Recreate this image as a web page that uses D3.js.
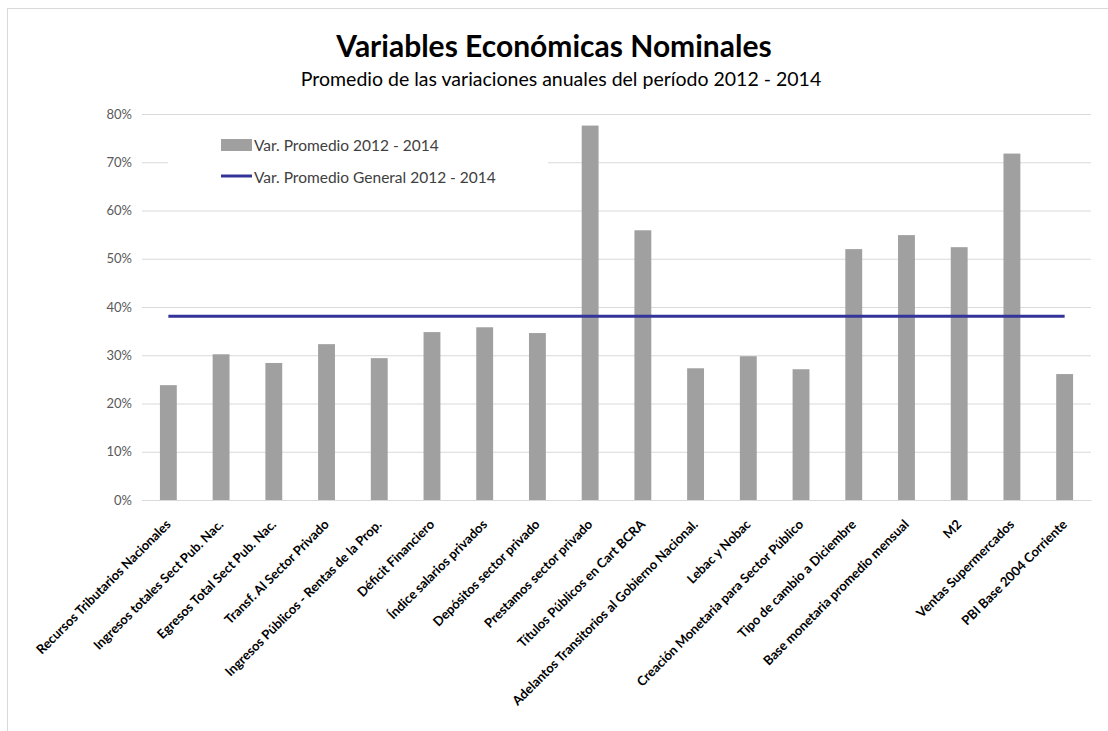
<!DOCTYPE html>
<html>
<head>
<meta charset="utf-8">
<script src="https://cdn.jsdelivr.net/npm/d3@7"></script>
<style>
  body { margin: 0; background: #fff; }
  text { font-family: Lato, "Open Sans", sans-serif; }
</style>
</head>
<body>
<script>
// categories and values
var categories = [
  "Recursos Tributarios Nacionales",
  "Ingresos totales Sect Pub. Nac.",
  "Egresos Total Sect Pub. Nac.",
  "Transf. Al Sector Privado",
  "Ingresos Públicos - Rentas de la Prop.",
  "Déficit Financiero",
  "Índice salarios privados",
  "Depósitos sector privado",
  "Prestamos sector privado",
  "Títulos Públicos en Cart BCRA",
  "Adelantos Transitorios al Gobierno Nacional.",
  "Lebac y Nobac",
  "Creación Monetaria para Sector Público",
  "Tipo de cambio a Diciembre",
  "Base monetaria promedio mensual",
  "M2",
  "Ventas Supermercados",
  "PBI Base 2004 Corriente"
];
var varPromedio = [0.238, 0.302, 0.284, 0.323, 0.294, 0.348, 0.358, 0.346, 0.776,
                   0.559, 0.273, 0.298, 0.271, 0.520, 0.549, 0.524, 0.718, 0.261];
var promedioGeneral = 0.381;
var yTicks = [0, 0.1, 0.2, 0.3, 0.4, 0.5, 0.6, 0.7, 0.8];

var title = "Variables Económicas Nominales";
var subtitle = "Promedio de las variaciones anuales del período 2012 - 2014";
var legendLabels = ["Var. Promedio 2012 - 2014", "Var. Promedio General 2012 - 2014"];

var width = 1108, height = 731;
var margin = {top: 114, right: 17, bottom: 231, left: 142};
var w = width - margin.left - margin.right;
var h = height - margin.top - margin.bottom;

var svg = d3.select("body").append("svg")
  .attr("width", width)
  .attr("height", height);

// chart frame
svg.append("rect")
  .attr("x", 7.5).attr("y", 8.5)
  .attr("width", 1200).attr("height", 900)
  .style("fill", "#fff")
  .style("stroke", "#d9d9d9");

// titles
svg.append("text")
  .attr("x", 554).attr("y", 57)
  .style("text-anchor", "middle")
  .style("font-size", "30px")
  .style("font-weight", "bold")
  .style("fill", "#000")
  .text(title);

svg.append("text")
  .attr("x", 561).attr("y", 86)
  .style("text-anchor", "middle")
  .style("font-size", "19.5px")
  .style("fill", "#000")
  .text(subtitle);

var g = svg.append("g")
  .attr("transform", "translate(" + margin.left + "," + margin.top + ")");

var x_scale = d3.scaleBand()
  .domain(categories)
  .range([0, w])
  .paddingInner(0.68)
  .paddingOuter(0.34);

var y_scale = d3.scaleLinear()
  .domain([0, 0.8])
  .range([h, 0]);

// gridlines + y labels
var y_axis = d3.axisLeft(y_scale)
  .tickValues(yTicks)
  .tickFormat(d3.format(".0%"))
  .tickSize(-w)
  .tickPadding(10);

var yg = g.append("g")
  .attr("class", "y axis")
  .call(y_axis);
yg.select(".domain").remove();
yg.selectAll("line").style("stroke", "#d9d9d9");
yg.selectAll("text")
  .style("font-size", "13px")
  .style("fill", "#595959")
  .style("font-family", "Lato, sans-serif");

// bars
g.selectAll("rect.bar")
  .data(varPromedio)
  .enter()
  .append("rect")
  .attr("class", "bar")
  .attr("x", function(d, i) { return x_scale(categories[i]); })
  .attr("width", x_scale.bandwidth())
  .attr("y", function(d) { return y_scale(d); })
  .attr("height", function(d) { return h - y_scale(d); })
  .style("fill", "#a0a0a0");

// x axis
var x_axis = d3.axisBottom(x_scale).tickSize(0).tickSizeOuter(0);
var xg = g.append("g")
  .attr("class", "x axis")
  .attr("transform", "translate(0," + h + ")")
  .call(x_axis);
xg.select(".domain").style("stroke", "#d9d9d9");
xg.selectAll("text")
  .attr("transform", "translate(0,22) rotate(-45)")
  .attr("dy", "0.35em")
  .attr("y", 0)
  .style("text-anchor", "end")
  .style("font-size", "13px")
  .style("font-weight", "bold")
  .style("fill", "#000")
  .style("font-family", "Lato, sans-serif");

// average line
var line = d3.line()
  .x(function(d) { return x_scale(d) + x_scale.bandwidth() / 2; })
  .y(function() { return y_scale(promedioGeneral); });

g.append("path")
  .datum(categories)
  .attr("d", line)
  .style("fill", "none")
  .style("stroke", "#333399")
  .style("stroke-width", 3);

// legend
var legend = svg.append("g").attr("transform", "translate(168,128)");
legend.append("rect")
  .attr("width", 380).attr("height", 68)
  .style("fill", "#fff");
legend.append("rect")
  .attr("x", 53).attr("y", 11)
  .attr("width", 31).attr("height", 12)
  .style("fill", "#a0a0a0");
legend.append("line")
  .attr("x1", 53).attr("x2", 84)
  .attr("y1", 48).attr("y2", 48)
  .style("stroke", "#333399")
  .style("stroke-width", 3);
legend.selectAll("text.legend_text")
  .data(legendLabels)
  .enter()
  .append("text")
  .attr("class", "legend_text")
  .attr("x", 86)
  .attr("y", function(d, i) { return 23 + i * 32; })
  .style("font-size", "15.5px")
  .style("fill", "#404040")
  .text(function(d) { return d; });
</script>
</body>
</html>
